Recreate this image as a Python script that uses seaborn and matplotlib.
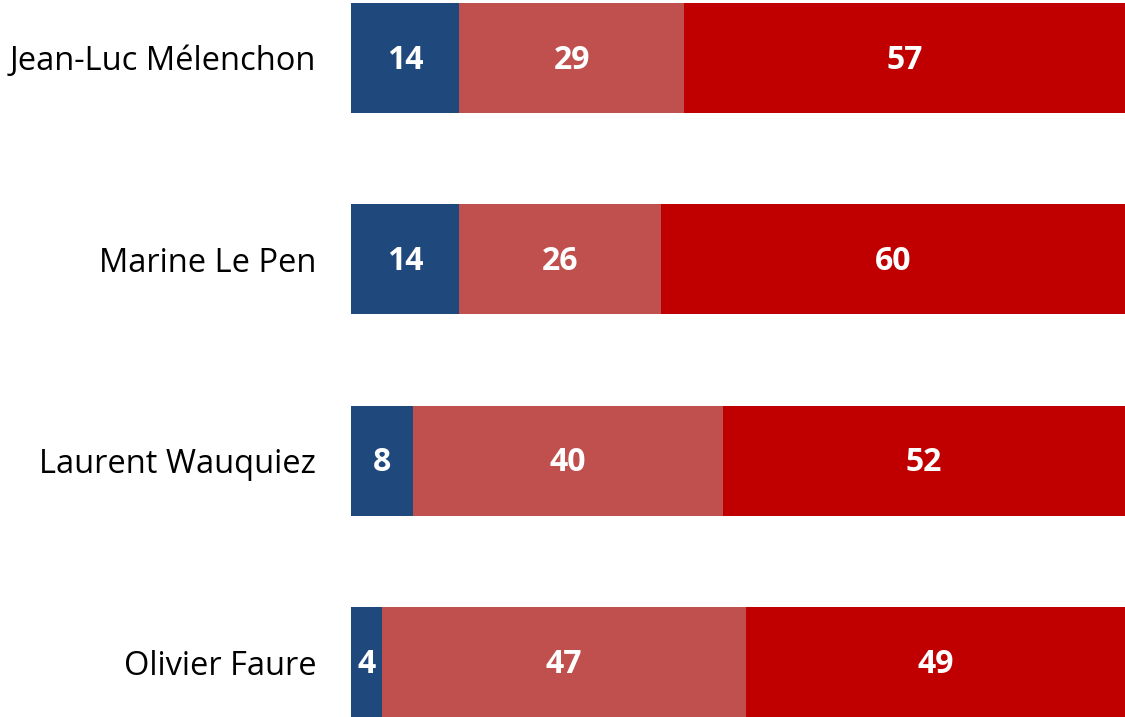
import matplotlib
matplotlib.use("Agg")
import matplotlib.pyplot as plt
import seaborn as sns
import pandas as pd
import numpy as np

names = ["Jean-Luc Mélenchon", "Marine Le Pen", "Laurent Wauquiez", "Olivier Faure"]
seg1 = [14, 14, 8, 4]
seg2 = [29, 26, 40, 47]
seg3 = [57, 60, 52, 49]
colors = ["#1F497D", "#C0504D", "#C00000"]

sns.set_theme(style="white")
plt.rcParams['font.family'] = ['Open Sans', 'DejaVu Sans']

df = pd.DataFrame({"name": names, "s1": seg1, "s2": seg2, "s3": seg3})
df["c1"] = df["s1"]
df["c2"] = df["s1"] + df["s2"]
df["c3"] = df["c2"] + df["s3"]

fig = plt.figure(figsize=(11.25, 7.17), dpi=100)
ax = fig.add_axes([351/1125, 0, 1 - 351/1125, 1])

w = 0.546
sns.barplot(data=df, y="name", x="c3", color=colors[2], width=w, orient="h", ax=ax, saturation=1, edgecolor="none")
sns.barplot(data=df, y="name", x="c2", color=colors[1], width=w, orient="h", ax=ax, saturation=1, edgecolor="none")
sns.barplot(data=df, y="name", x="c1", color=colors[0], width=w, orient="h", ax=ax, saturation=1, edgecolor="none")

for i, row in df.iterrows():
    starts = [0, row["c1"], row["c2"]]
    vals = [row["s1"], row["s2"], row["s3"]]
    for s, v in zip(starts, vals):
        ax.text(s + v / 2, i + 0.01, str(v), ha="center", va="center", color="white",
                fontsize=23, fontweight="bold")

ax.set_xlim(0, 100)
ax.set_ylim(3.273, -0.288)
ax.set_xlabel("")
ax.set_ylabel("")
ax.set_xticks([])
ax.tick_params(axis="y", length=0, pad=25, labelsize=23.5)
for lbl in ax.get_yticklabels():
    lbl.set_color("black")
for sp in ax.spines.values():
    sp.set_visible(False)

fig.savefig("out.png", dpi=100)
